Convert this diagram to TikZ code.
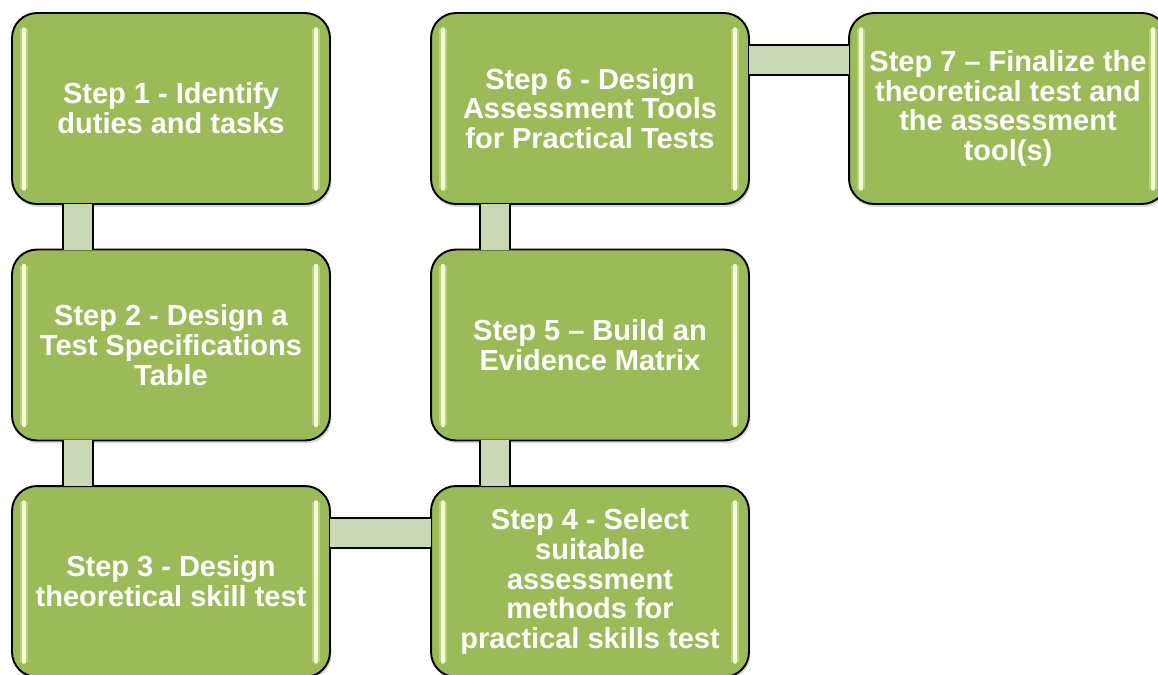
\documentclass[tikz,border=0pt]{standalone}
\usepackage{fontspec}
\setmainfont{Liberation Sans}
\usetikzlibrary{shadows}
\definecolor{stepgreen}{RGB}{155,187,89}
\definecolor{bondgreen}{RGB}{201,216,181}
\definecolor{glintgreen}{RGB}{245,255,210}
\tikzset{
  glint/.style={draw=glintgreen, line width=0.07cm, line cap=round,
    preaction={draw=glintgreen, line width=0.16cm, opacity=0.35}},
  stepnode/.style={draw=black, line width=1.1pt, fill=stepgreen,
    rounded corners=0.5cm, minimum width=6.36cm, minimum height=3.82cm,
    outer sep=0pt, inner sep=0pt, align=center, text=white,
    font=\fontsize{16.5}{17}\selectfont\bfseries,
    drop shadow={shadow xshift=0.03cm, shadow yshift=-0.06cm, opacity=0.3},
    path picture={
      \draw[glint] ([shift={(12,16)}]path picture bounding box.north west)
        -- ([shift={(12,-15)}]path picture bounding box.south west);
      \draw[glint] ([shift={(-14,16)}]path picture bounding box.north east)
        -- ([shift={(-14,-15)}]path picture bounding box.south east);
    }},
  bond/.style={draw=black, line width=1.1pt, double=bondgreen, double distance=0.56cm},
}
\begin{document}
\begin{tikzpicture}[x=0.02cm,y=-0.02cm]
  \clip (0,0) rectangle (1158,674);
%First column
  \node[stepnode] (S1) at (171,108.5) {Step 1 - Identify\\duties and tasks};
  \node[stepnode] (S2) at (171,345) {Step 2 - Design a\\Test Specifications\\Table};
  \node[stepnode] (S3) at (171,581.5) {Step 3 - Design\\theoretical skill test};
%Second column
  \node[stepnode] (S4) at (590,581.5) {Step 4 - Select\\suitable\\assessment\\methods for\\practical skills test};
  \node[stepnode] (S5) at (590,345) {Step 5 -- Build an\\Evidence Matrix};
  \node[stepnode] (S6) at (590,108.5) {Step 6 - Design\\Assessment Tools\\for Practical Tests};
%Third column
  \node[stepnode] (S7) at (1008,108.5) {Step 7 -- Finalize the\\theoretical test and\\the assessment\\tool(s)};
% bonds
  \draw[bond] ([shift={(66,0)}]S1.south west) -- ([shift={(66,0)}]S2.north west);
  \draw[bond] ([shift={(66,0)}]S2.south west) -- ([shift={(66,0)}]S3.north west);
  \draw[bond] ([shift={(0,47)}]S3.north east) -- ([shift={(0,47)}]S4.north west);
  \draw[bond] ([shift={(64,0)}]S4.north west) -- ([shift={(64,0)}]S5.south west);
  \draw[bond] ([shift={(64,0)}]S5.north west) -- ([shift={(64,0)}]S6.south west);
  \draw[bond] ([shift={(0,47)}]S6.north east) -- ([shift={(0,47)}]S7.north west);
\end{tikzpicture}
\end{document}
